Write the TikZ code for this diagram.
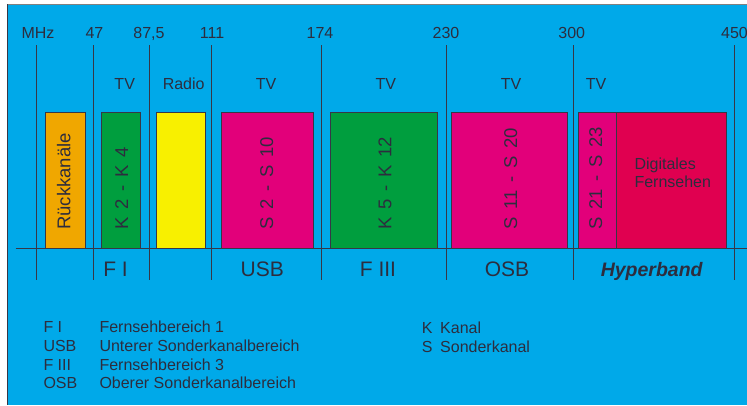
\documentclass[tikz,border=0pt]{standalone}
\usepackage{fontspec}
\setmainfont{Liberation Sans}
\newfontfamily\rotfont[WordSpace=1.5]{Liberation Sans}
\definecolor{bg}{RGB}{0,169,233}
\definecolor{ink}{RGB}{45,45,62}
\definecolor{lin}{RGB}{55,55,70}
\definecolor{orng}{RGB}{240,167,0}
\definecolor{grn}{RGB}{0,158,62}
\definecolor{yel}{RGB}{248,240,0}
\definecolor{mag}{RGB}{226,0,122}
\definecolor{dig}{RGB}{224,0,80}
\begin{document}
\begin{tikzpicture}[x=1pt,y=-1pt,
  lbl/.style={text=ink,inner sep=0pt,anchor=base,font=\fontsize{16}{18.5}\selectfont},
  lgd/.style={text=ink,inner sep=0pt,anchor=base west,font=\fontsize{16}{18.5}\selectfont},
  band/.style={text=ink,inner sep=0pt,anchor=base,font=\fontsize{21}{24}\selectfont},
  rot/.style={text=ink,inner sep=0pt,anchor=west,rotate=90,font=\rotfont\fontsize{18.5}{22}\selectfont},
  boxline/.style={draw=lin,line width=0.8pt},
  grid/.style={draw=lin,line width=0.8pt}]
\useasboundingbox (0,0) rectangle (747,405);
\fill[white] (0,0) rectangle (747,405);
\fill[bg] (7,4) rectangle (747,405);
\draw[gray,line width=1pt] (7,4) -- (747,4);
\draw[lin,line width=1pt] (7,4) -- (7,405);
% vertical grid lines
\foreach \x in {36.7,93,149.3,211.3,321.3,446.3,573.3,734.3}
  \draw[grid] (\x,45) -- (\x,280);
% boxes
\path[boxline,fill=orng] (45.3,112.3) rectangle (85.7,248.3);
\path[boxline,fill=grn] (101.3,112.3) rectangle (140.7,248.3);
\path[boxline,fill=yel] (156.3,112.3) rectangle (205.3,248.3);
\path[boxline,fill=mag] (221.3,112.3) rectangle (313.3,248.3);
\path[boxline,fill=grn] (330,112.3) rectangle (437.7,248.3);
\path[boxline,fill=mag] (451,112.3) rectangle (567.7,248.3);
\path[boxline,fill=mag] (578,112.3) rectangle (616,248.3);
\path[boxline,fill=dig] (616,112.3) rectangle (726.3,248.3);
% horizontal axis
\draw[grid] (15.7,248.3) -- (747,248.3);
% frequency labels
\node[lbl] (mhz) at (38,38.3) {MHz};
\node[lbl] (f47) at (94.5,38.3) {47};
\node[lbl] (f87) at (149,38.3) {87,5};
\node[lbl] (f111) at (212,38.3) {111};
\node[lbl] (f174) at (320,38.3) {174};
\node[lbl] (f230) at (446,38.3) {230};
\node[lbl] (f300) at (571.7,38.3) {300};
\node[lbl] (f450) at (734.5,38.3) {450};
% service labels
\node[lbl] (tv1) at (124.7,89.3) {TV};
\node[lbl] (radio) at (183.7,89.3) {Radio};
\node[lbl] (tv2) at (266,89.3) {TV};
\node[lbl] (tv3) at (385.8,89.3) {TV};
\node[lbl] (tv4) at (511,89.3) {TV};
\node[lbl] (tv5) at (596,89.3) {TV};
% rotated channel labels
\node[rot] (rk) at (63.8,230) {Rückkanäle};
\node[rot] (k24) at (121.7,230) {K 2 - K 4};
\node[rot] (s210) at (266.7,230) {S 2 - S 10};
\node[rot] (k512) at (385,230) {K 5 - K 12};
\node[rot] (s1120) at (510.7,230) {S 11 - S 20};
\node[rot] (s2123) at (595.7,230) {S 21 - S 23};
\node[lgd] (dig1) at (634.3,169) {Digitales};
\node[lgd] (dig2) at (634.3,187.3) {Fernsehen};
% band labels
\node[band] (fi) at (115.5,276.7) {F I};
\node[band] (usb) at (262.3,276.7) {USB};
\node[band] (fiii) at (378,276.7) {F III};
\node[band] (osb) at (507,276.7) {OSB};
\node[band,font=\fontsize{19.5}{24}\selectfont\bfseries\itshape] (hyp) at (651.7,276.2) {Hyperband};
% legend
\node[lgd] (la1) at (43.3,332.7) {F I};
\node[lgd] (lb1) at (99.3,332.7) {Fernsehbereich 1};
\node[lgd] (la2) at (43.3,351.7) {USB};
\node[lgd] (lb2) at (99.3,351.7) {Unterer Sonderkanalbereich};
\node[lgd] (la3) at (43.3,370) {F III};
\node[lgd] (lb3) at (99.3,370) {Fernsehbereich 3};
\node[lgd] (la4) at (43.3,388.3) {OSB};
\node[lgd] (lb4) at (99.3,388.3) {Oberer Sonderkanalbereich};
\node[lgd] (lk1) at (421.7,333) {K};
\node[lgd] (lk2) at (440,333) {Kanal};
\node[lgd] (ls1) at (421.7,352) {S};
\node[lgd] (ls2) at (440,352) {Sonderkanal};
\end{tikzpicture}
\end{document}
